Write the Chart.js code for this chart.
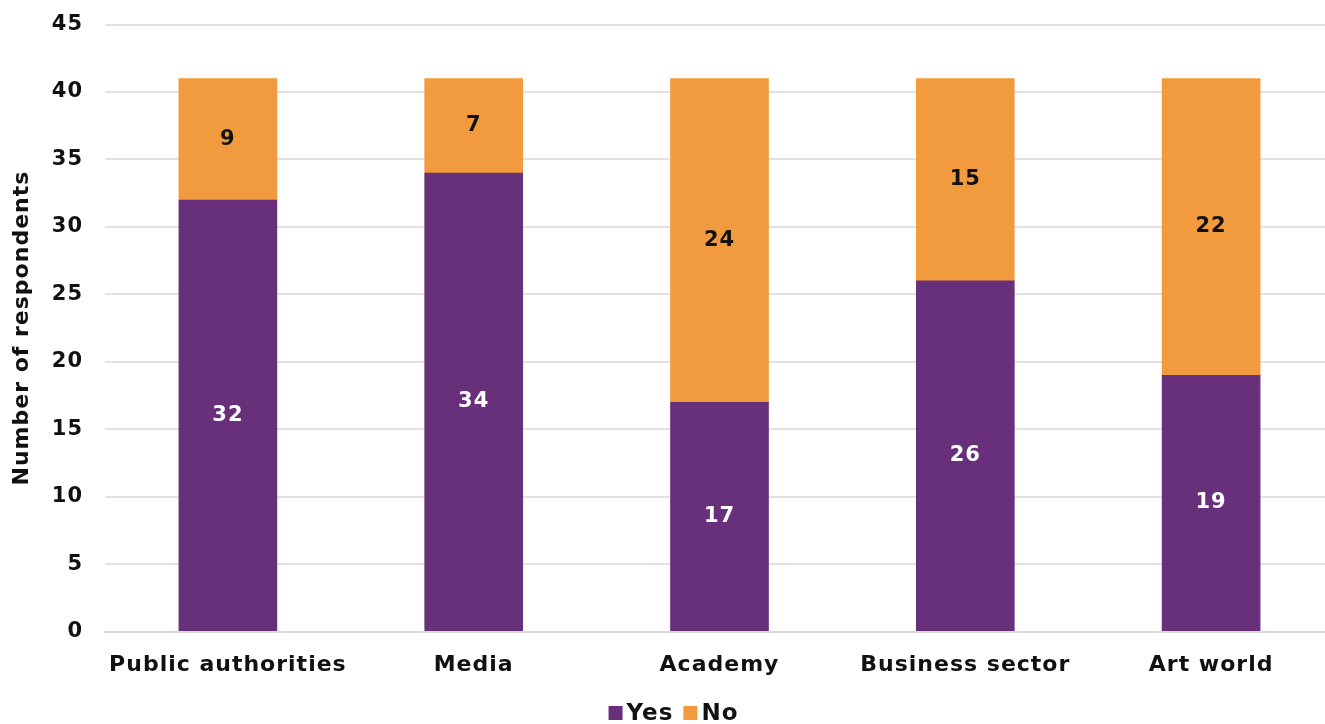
<!DOCTYPE html>
<html>
<head>
<meta charset="utf-8">
<script src="https://cdn.jsdelivr.net/npm/chart.js@4/dist/chart.umd.min.js"></script>
<style>
  html, body { margin: 0; padding: 0; background: #ffffff; overflow: hidden; }
  #wrap { width: 1334px; height: 734px; margin-top: -10px; }
</style>
</head>
<body>
<div id="wrap"><canvas id="respondents"></canvas></div>
<script>
// survey answers per sector
var categories = ['Public authorities', 'Media', 'Academy', 'Business sector', 'Art world'];
var yesValues = [32, 34, 17, 26, 19];
var noValues = [9, 7, 24, 15, 22];
var yTicks = [0, 5, 10, 15, 20, 25, 30, 35, 40, 45];

var FONT = '"DejaVu Sans", Verdana, sans-serif';

// a little tracking on all text, set before layout so measuring matches drawing
var tracking = {
  id: 'tracking',
  beforeUpdate: function(chart) { chart.ctx.letterSpacing = '1px'; },
  beforeDraw: function(chart) { chart.ctx.letterSpacing = '1px'; }
};

// writes each segment's value in the middle of the bar piece
var barLabels = {
  id: 'barLabels',
  afterDatasetsDraw: function(chart) {
    var ctx = chart.ctx;
    ctx.save();
    ctx.font = 'bold 21px ' + FONT;
    ctx.textAlign = 'center';
    ctx.textBaseline = 'middle';
    chart.data.datasets.forEach(function(ds, i) {
      var meta = chart.getDatasetMeta(i);
      ctx.fillStyle = i === 0 ? '#ffffff' : '#111111';
      meta.data.forEach(function(bar, j) {
        var mid = (bar.y + bar.base) / 2;
        ctx.fillText(ds.data[j], bar.x, mid);
      });
    });
    ctx.restore();
  }
};

// compact legend under the axis labels: square swatch tight against its label
var swatchLegend = {
  id: 'swatchLegend',
  afterDraw: function(chart) {
    var ctx = chart.ctx;
    var box = 14, gap = 4, itemGap = 10;
    ctx.save();
    ctx.font = 'bold 23px ' + FONT;
    ctx.textBaseline = 'middle';
    var items = chart.data.datasets.map(function(ds) {
      return { text: ds.label, color: ds.backgroundColor, w: ctx.measureText(ds.label).width };
    });
    var total = items.reduce(function(s, it) { return s + box + gap + it.w; }, 0) + itemGap * (items.length - 1);
    var x = (chart.chartArea.left + chart.chartArea.right) / 2 - 46 - total / 2;
    var y = chart.height - 11;
    items.forEach(function(it) {
      ctx.fillStyle = it.color;
      ctx.fillRect(x, y - box / 2, box, box);
      ctx.fillStyle = '#111111';
      ctx.fillText(it.text, x + box + gap, y + 1);
      x += box + gap + it.w + itemGap;
    });
    ctx.restore();
  }
};

new Chart(document.getElementById('respondents'), {
  type: 'bar',
  data: {
    labels: categories,
    datasets: [{
      label: 'Yes',
      data: yesValues,
      backgroundColor: '#68307b',
      barThickness: 98
    }, {
      label: 'No',
      data: noValues,
      backgroundColor: '#f29b3e',
      barThickness: 98
    }]
  },
  options: {
    responsive: true,
    maintainAspectRatio: false,
    animation: false,
    layout: { padding: { left: 0, right: 0, top: 3, bottom: 26 } },
    plugins: {
      legend: { display: false },
      tooltip: { enabled: false }
    },
    scales: {
      x: {
        stacked: true,
        grid: { display: false, drawTicks: false },
        border: { color: '#d9d9d9', width: 2 },
        ticks: {
          padding: 20,
          color: '#111111',
          maxRotation: 0,
          font: { family: FONT, size: 22, weight: 'bold' }
        }
      },
      y: {
        stacked: true,
        min: 0,
        max: 45,
        afterBuildTicks: function(scale) {
          scale.ticks = yTicks.map(function(v) { return { value: v }; });
        },
        afterFit: function(scale) { scale.width = 105; },
        grid: { color: '#e2e2e2', lineWidth: 2, drawTicks: false },
        border: { display: false },
        ticks: {
          padding: 22,
          color: '#111111',
          font: { family: FONT, size: 21, weight: 'bold' }
        },
        title: {
          display: true,
          text: 'Number of respondents',
          color: '#111111',
          padding: { top: 9, bottom: 0 },
          font: { family: FONT, size: 22, weight: 'bold' }
        }
      }
    }
  },
  plugins: [tracking, barLabels, swatchLegend]
});
</script>
</body>
</html>
